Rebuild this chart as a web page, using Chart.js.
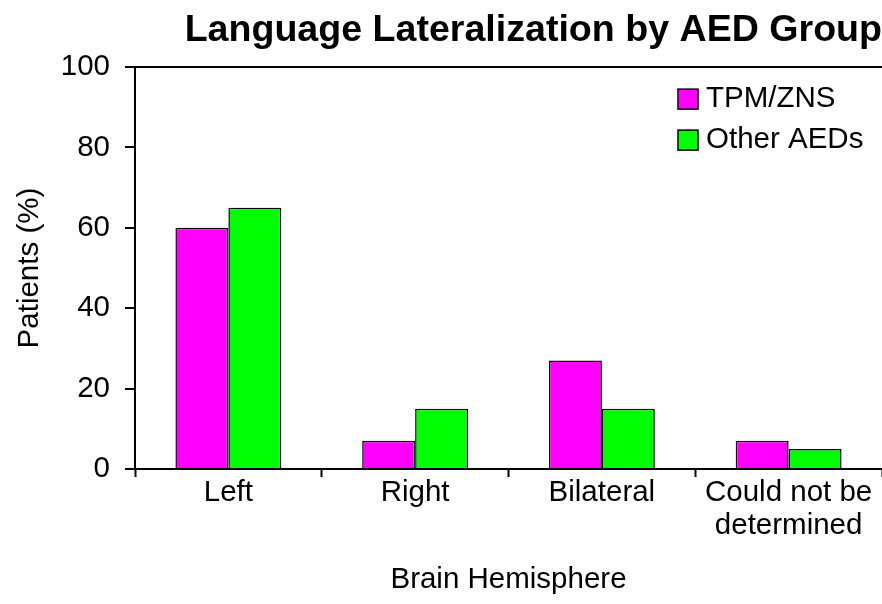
<!DOCTYPE html>
<html>
<head>
<meta charset="utf-8">
<script src="https://cdn.jsdelivr.net/npm/chart.js@4"></script>
<style>
  body { margin: 0; background: #fff; }
  #wrap { width: 882px; height: 604px; }
</style>
</head>
<body>
<div id="wrap"><canvas id="chart" width="882" height="604"></canvas></div>
<script>
// data
var categories = ['Left', 'Right', 'Bilateral', ['Could not be', 'determined']];
var tpmZns = [60, 7, 27, 7];
var otherAeds = [65, 15, 15, 5];
var seriesNames = ['TPM/ZNS', 'Other AEDs'];
var yTicks = [0, 20, 40, 60, 80, 100];

var FONT = 'Liberation Sans, Arial, sans-serif';
var FS = 29.5;

// legend drawn inside the plot, top right
var insideLegend = {
    id: 'insideLegend',
    afterDraw: function (chart) {
        var ctx = chart.ctx;
        var area = chart.chartArea;
        var x = area.right - 204;
        var y = area.top + 22;
        ctx.save();
        ctx.font = FS + 'px ' + FONT;
        ctx.textBaseline = 'middle';
        ctx.textAlign = 'left';
        chart.data.datasets.forEach(function (ds, i) {
            var yy = y + i * 41;
            ctx.fillStyle = ds.backgroundColor;
            ctx.fillRect(x, yy, 20, 20);
            ctx.strokeStyle = '#000';
            ctx.lineWidth = 1.5;
            ctx.strokeRect(x, yy, 20, 20);
            ctx.fillStyle = '#000';
            ctx.fillText(ds.label, x + 28, yy + 10);
        });
        ctx.restore();
    }
};

new Chart(document.getElementById('chart'), {
    type: 'bar',
    data: {
        labels: categories,
        datasets: [{
            label: seriesNames[0],
            data: tpmZns,
            backgroundColor: '#FF00FF',
            borderColor: '#000',
            borderWidth: 1.5,
            categoryPercentage: 0.567,
            barPercentage: 1
        }, {
            label: seriesNames[1],
            data: otherAeds,
            backgroundColor: '#00FF00',
            borderColor: '#000',
            borderWidth: 1.5,
            categoryPercentage: 0.567,
            barPercentage: 1
        }]
    },
    options: {
        responsive: false,
        animation: false,
        layout: { padding: 0 },
        plugins: {
            legend: { display: false },
            tooltip: { enabled: false },
            title: {
                display: true,
                text: 'Language Lateralization by AED Group',
                align: 'end',
                color: '#000',
                font: { family: FONT, size: 37.6, weight: 'bold' },
                padding: { top: 8, bottom: 14 }
            }
        },
        scales: {
            x: {
                afterFit: function (s) { s.height = 135; },
                border: { color: '#000', width: 2 },
                grid: { drawOnChartArea: false, tickLength: 8, tickColor: '#000', tickWidth: 2, offset: true },
                ticks: {
                    color: '#000',
                    padding: 0,
                    maxRotation: 0,
                    font: { family: FONT, size: FS, lineHeight: 1.1 }
                },
                title: {
                    display: true,
                    text: 'Brain Hemisphere',
                    color: '#000',
                    font: { family: FONT, size: FS },
                    padding: { top: 0, bottom: 6 }
                }
            },
            y: {
                min: 0,
                max: 100,
                afterFit: function (s) { s.width = 135; },
                afterBuildTicks: function (s) {
                    s.ticks = yTicks.map(function (v) { return { value: v }; });
                },
                border: { color: '#000', width: 2 },
                grid: {
                    color: function (c) { return c.tick && c.tick.value === 100 ? '#000' : 'rgba(0,0,0,0)'; },
                    lineWidth: 2,
                    tickLength: 10,
                    tickColor: '#000',
                    tickWidth: 2
                },
                ticks: {
                    color: '#000',
                    padding: 15,
                    font: { family: FONT, size: FS }
                },
                title: {
                    display: true,
                    text: 'Patients (%)',
                    color: '#000',
                    font: { family: FONT, size: FS },
                    padding: { top: 12, bottom: 0 }
                }
            }
        }
    },
    plugins: [insideLegend]
});
</script>
</body>
</html>
